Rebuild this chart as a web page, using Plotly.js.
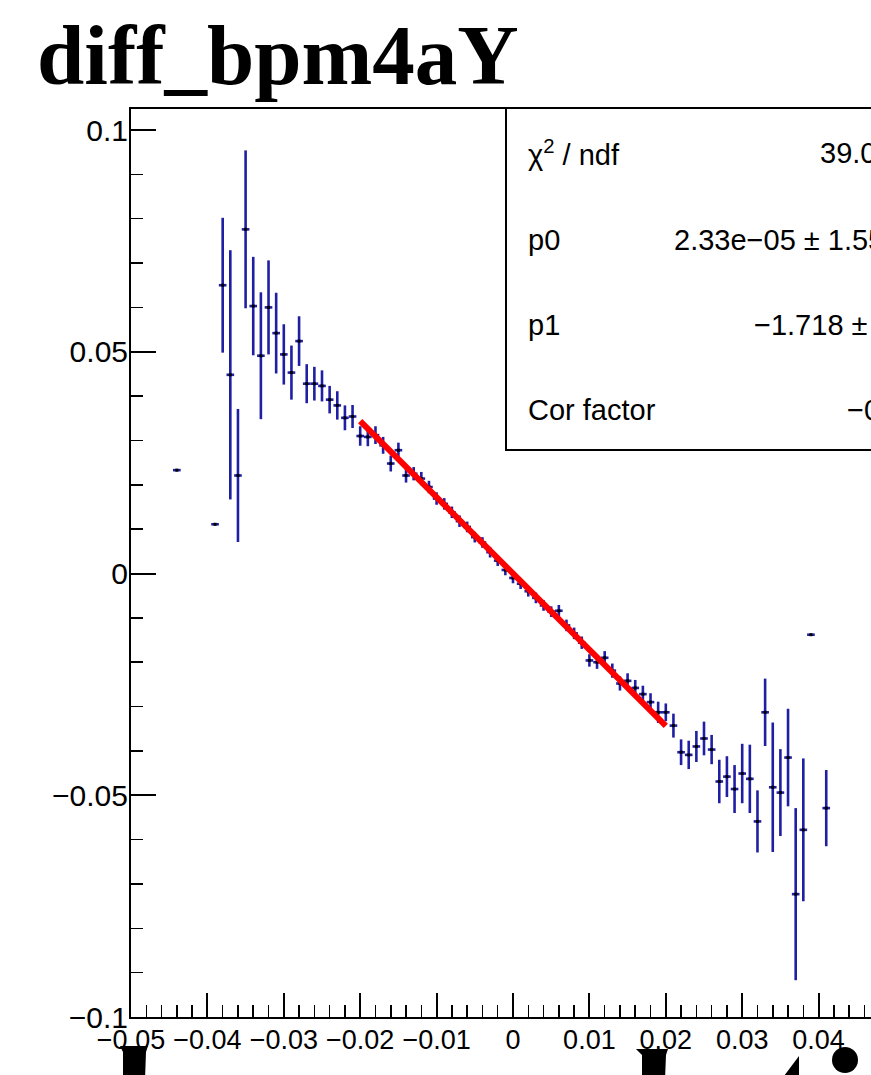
<!DOCTYPE html>
<html><head><meta charset="utf-8">
<script src="https://cdn.plot.ly/plotly-3.0.1.min.js"></script>
<style>html,body{margin:0;padding:0;background:#fff;overflow:hidden}</style>
</head><body>
<div id="plot" style="width:871px;height:1075px"></div>
<script>
// ---- data ----
const binCenters = [-0.044,-0.039,-0.038,-0.037,-0.036,-0.035,-0.034,-0.033,-0.032,-0.031,-0.030,-0.029,-0.028,-0.027,-0.026,-0.025,-0.024,-0.023,-0.022,-0.021,
  -0.020,-0.019,-0.018,-0.017,-0.016,-0.015,-0.014,-0.013,-0.012,-0.011,-0.010,-0.009,-0.008,-0.007,-0.006,-0.005,-0.004,-0.003,-0.002,-0.001,
  0.000,0.001,0.002,0.003,0.004,0.005,0.006,0.007,0.008,0.009,0.010,0.011,0.012,0.013,0.014,0.015,0.016,0.017,0.018,0.019,
  0.020,0.021,0.022,0.023,0.024,0.025,0.026,0.027,0.028,0.029,0.030,0.031,0.032,0.033,0.034,0.035,0.036,0.037,0.038,0.039,0.041];
const meanValues = [0.0233,0.0111,0.0650,0.0448,0.0221,0.0776,0.0603,0.0491,0.0600,0.0542,0.0494,0.0453,0.0524,0.0428,0.0428,0.0423,0.0392,0.0379,0.0351,0.0354,
  0.0310,0.0308,0.0312,0.0289,0.0248,0.0278,0.0221,0.0225,0.0214,0.0195,0.0169,0.0157,0.0138,0.0118,0.0105,0.0082,0.0070,0.0048,0.0029,0.0008,
  -0.0010,-0.0023,-0.0040,-0.0055,-0.0072,-0.0086,-0.0084,-0.0117,-0.0135,-0.0156,-0.0196,-0.0200,-0.0190,-0.0219,-0.0248,-0.0242,-0.0258,-0.0272,-0.0290,-0.0313,
  -0.0313,-0.0343,-0.0403,-0.0409,-0.0390,-0.0372,-0.0397,-0.0469,-0.0458,-0.0486,-0.0451,-0.0463,-0.0559,-0.0313,-0.0482,-0.0494,-0.0415,-0.0723,-0.0578,-0.0138,-0.0529];
const meanErrors = [0,0,0.0152,0.0281,0.0150,0.0178,0.0111,0.0143,0.0106,0.0091,0.0068,0.0061,0.0056,0.0044,0.0038,0.0035,0.0031,0.0032,0.0028,0.0026,
  0.0022,0.0021,0.0020,0.0019,0.0018,0.0017,0.0016,0.0015,0.0015,0.0014,0.0014,0.0013,0.0013,0.0013,0.0012,0.0012,0.0012,0.0012,0.0012,0.0012,
  0.0012,0.0012,0.0012,0.0012,0.0012,0.0012,0.0013,0.0013,0.0013,0.0014,0.0014,0.0015,0.0015,0.0016,0.0016,0.0017,0.0018,0.0019,0.0020,0.0024,
  0.0020,0.0027,0.0029,0.0032,0.0035,0.0038,0.0033,0.0049,0.0046,0.0054,0.0067,0.0077,0.0070,0.0076,0.0146,0.0098,0.0110,0.0194,0.0161,0,0.0086];
const binWidth = 0.001;
const fitRange = [-0.02, 0.02];
const fitP0 = 2.33e-05;
const fitP1 = -1.718;
const statLabels = ['\u03c7<sup>2</sup> / ndf', 'p0', 'p1', 'Cor factor'];
const statValues = ['39.0', '2.33e\u221205 \u00b1 1.55', '\u22121.718 \u00b1', '\u22120'];
const chartTitle = 'diff_bpm4aY';

// ---- geometry helpers (pixel -> paper) ----
const W = 871, H = 1075;
const M = {l:131, r:0, t:109, b:58};
const PW = W - M.l - M.r, PH = H - M.t - M.b;
const px = x => (x - M.l) / PW;
const py = y => (H - M.b - y) / PH;

const blue = '#1f1fa3';
const traces = [
  {
    type:'scatter', mode:'markers', x: binCenters, y: meanValues,
    marker:{size:3, color:'#000', symbol:'square'},
    error_y:{type:'data', array: meanErrors, visible:true, color: blue, thickness:2.6, width:0},
    error_x:{type:'constant', value: binWidth/2, visible:true, color: blue, thickness:2.6, width:0},
    hoverinfo:'skip'
  },
  {
    type:'scatter', mode:'lines',
    x: fitRange, y: fitRange.map(v => fitP0 + fitP1 * v),
    line:{color:'#ff0000', width:6}, hoverinfo:'skip'
  }
];

const rowY = [153, 240, 325, 410];
const valX = [818, 672, 752, 845];
const statFont = {family:'Liberation Sans', size:29, color:'#000'};
const annotations = [];
statLabels.forEach((t,i) => annotations.push({
  xref:'paper', yref:'paper', x: px(526), y: py(rowY[i]), xanchor:'left', yanchor:'middle',
  text: t, showarrow:false, font: statFont
}));
statValues.forEach((t,i) => annotations.push({
  xref:'paper', yref:'paper', x: px(valX[i]), y: py(rowY[i]), xanchor:'left', yanchor:'middle',
  text: t, showarrow:false, font: statFont
}));

function pathPx(pts){
  return 'M ' + pts.map(p => px(p[0]).toFixed(5) + ',' + py(p[1]).toFixed(5)).join(' L ') + ' Z';
}
const shapes = [
  {type:'rect', xref:'paper', yref:'paper', x0: px(506), x1: 1.05, y0: py(450), y1: py(108),
   line:{color:'#000', width:2}, fillcolor:'#fff', layer:'above'},
  // partially visible glyph tops at the bottom edge
  {type:'path', xref:'paper', yref:'paper', path: pathPx([[120,1046],[148,1046],[146,1052],[145,1080],[123,1080],[123,1052]]), fillcolor:'#000', line:{width:0}, layer:'above'},
  {type:'path', xref:'paper', yref:'paper', path: pathPx([[636,1049],[668,1049],[666,1055],[665,1080],[642,1080],[642,1055]]), fillcolor:'#000', line:{width:0}, layer:'above'},
  {type:'path', xref:'paper', yref:'paper', path: pathPx([[799,1056],[799,1080],[781,1080]]), fillcolor:'#000', line:{width:0}, layer:'above'},
  {type:'circle', xref:'paper', yref:'paper', x0: px(832), x1: px(858), y0: py(1073), y1: py(1047), fillcolor:'#000', line:{width:0}, layer:'above'}
];

const layout = {
  width: W, height: H,
  margin: {l:M.l, r:M.r, t:M.t, b:M.b, pad:0},
  paper_bgcolor:'#fff', plot_bgcolor:'#fff', showlegend:false,
  title: {text: chartTitle, x: 37/W, xanchor:'left', xref:'container', y: 1 - 54/H, yanchor:'middle', yref:'container',
          font:{family:'Liberation Serif', size:85, color:'#000', weight:'bold'}},
  xaxis: {range:[-0.05, -0.05 + PW/7640], showgrid:false, zeroline:false, showline:true, linecolor:'#000', linewidth:2, mirror:true,
          ticks:'inside', ticklen:24, tickwidth:2, tickcolor:'#000', tick0:0, dtick:0.01, ticklabelstandoff:-2,
          minor:{dtick:0.002, tick0:0, ticks:'inside', ticklen:12, tickwidth:1.5, tickcolor:'#000', showgrid:false},
          tickfont:{family:'Liberation Sans', size:27, color:'#000'}, fixedrange:true},
  yaxis: {range:[-0.1, -0.1 + PH/4435], showgrid:false, zeroline:false, showline:true, linecolor:'#000', linewidth:2, mirror:false,
          ticks:'inside', ticklen:25, tickwidth:2, tickcolor:'#000', tick0:0, dtick:0.05, ticklabelstandoff:-5,
          minor:{dtick:0.01, tick0:0, ticks:'inside', ticklen:12, tickwidth:1.5, tickcolor:'#000', showgrid:false},
          tickfont:{family:'Liberation Sans', size:30, color:'#000'}, fixedrange:true},
  shapes, annotations
};
Plotly.newPlot('plot', traces, layout, {staticPlot:true, displayModeBar:false});
</script>
</body></html>
